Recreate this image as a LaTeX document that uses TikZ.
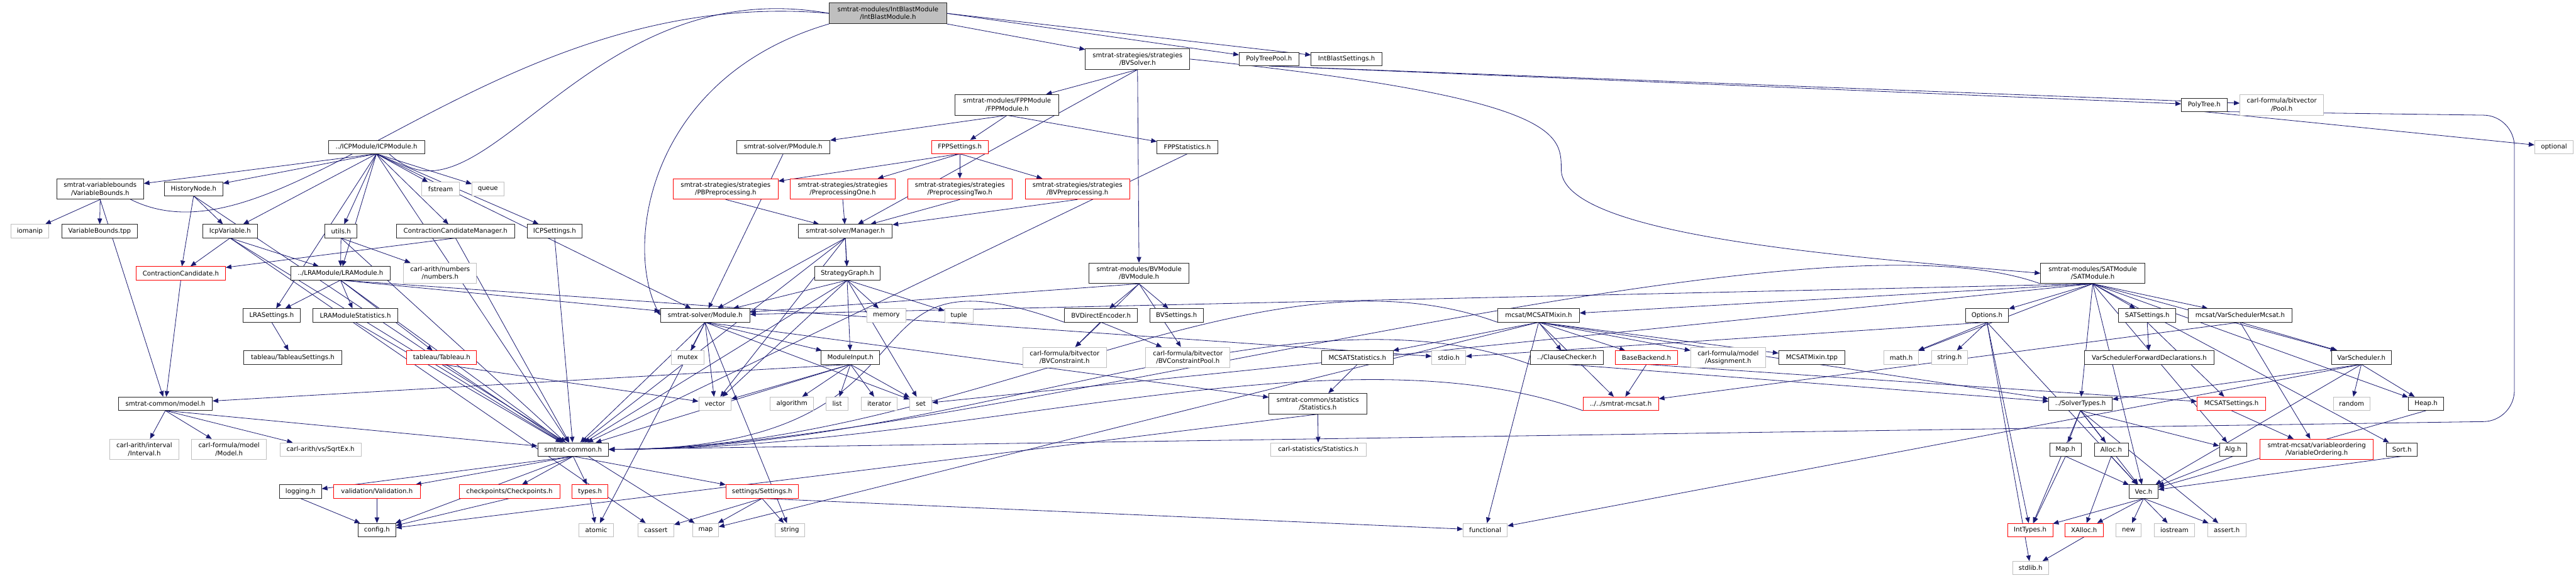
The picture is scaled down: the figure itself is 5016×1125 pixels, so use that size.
\documentclass[tikz,border=0pt]{standalone}
\usepackage{fontspec}
\setmainfont{DejaVu Sans}
\usetikzlibrary{arrows.meta,backgrounds}
\definecolor{edgeblue}{HTML}{191970}
\definecolor{extgray}{HTML}{BFBFBF}
\tikzset{
  hdrbox/.style={draw=black!85, fill=white, line width=1pt, align=center,
                 font=\fontsize{12.5}{15}\selectfont, inner sep=2pt, minimum height=26pt},
  two/.style={minimum height=40pt},
  extbox/.style={hdrbox, draw=extgray},
  redbox/.style={hdrbox, draw=red},
  rootbox/.style={hdrbox, fill=extgray},
  flow/.style={-{Triangle[length=11pt,width=9pt]}, draw=edgeblue, line width=1pt},
}

\begin{document}
\begin{tikzpicture}[x=1pt, y=-1pt]
\useasboundingbox (0,0) rectangle (5016,1125);
% top rows
\node[rootbox, two, minimum width=228] (ib) at (1729,26) {smtrat-modules/IntBlastModule\\/IntBlastModule.h};
\node[hdrbox, two, minimum width=203] (bvsolver) at (2215,115) {smtrat-strategies/strategies\\/BVSolver.h};
\node[hdrbox, minimum width=116] (polytreepool) at (2471,115) {PolyTreePool.h};
\node[hdrbox, minimum width=138] (ibsettings) at (2622,115) {IntBlastSettings.h};
\node[hdrbox, two, minimum width=202] (fppmodule) at (1961,204) {smtrat-modules/FPPModule\\/FPPModule.h};
\node[hdrbox, minimum width=89] (polytree) at (4292,204) {PolyTree.h};
\node[extbox, two, minimum width=163] (bvpool) at (4443,204) {carl-formula/bitvector\\/Pool.h};
\node[hdrbox, minimum width=187] (icp) at (733,286) {../ICPModule/ICPModule.h};
\node[hdrbox, minimum width=182] (pmodule) at (1525,286) {smtrat-solver/PModule.h};
\node[redbox, minimum width=110] (fppsettings) at (1869,286) {FPPSettings.h};
\node[hdrbox, minimum width=118] (fppstats) at (2312,286) {FPPStatistics.h};
\node[extbox, minimum width=75] (optional) at (4973,286) {optional};
% ICP and preprocessing row
\node[hdrbox, two, minimum width=169] (vb) at (195,368) {smtrat-variablebounds\\/VariableBounds.h};
\node[hdrbox, minimum width=114] (historynode) at (377,368) {HistoryNode.h};
\node[extbox, minimum width=73] (fstream) at (858,368) {fstream};
\node[extbox, minimum width=62] (queue) at (950,368) {queue};
\node[redbox, two, minimum width=204] (pbpre) at (1413,368) {smtrat-strategies/strategies\\/PBPreprocessing.h};
\node[redbox, two, minimum width=204] (preone) at (1641,368) {smtrat-strategies/strategies\\/PreprocessingOne.h};
\node[redbox, two, minimum width=204] (pretwo) at (1869,368) {smtrat-strategies/strategies\\/PreprocessingTwo.h};
\node[redbox, two, minimum width=204] (bvpre) at (2098,368) {smtrat-strategies/strategies\\/BVPreprocessing.h};
\node[extbox, minimum width=73] (iomanip) at (58,450) {iomanip};
\node[hdrbox, minimum width=148] (vbtpp) at (194,450) {VariableBounds.tpp};
\node[hdrbox, minimum width=106] (icpvar) at (448,450) {IcpVariable.h};
\node[hdrbox, minimum width=62] (utils) at (664,450) {utils.h};
\node[hdrbox, minimum width=230] (ccmanager) at (887,450) {ContractionCandidateManager.h};
\node[hdrbox, minimum width=106] (icpsettings) at (1080,450) {ICPSettings.h};
\node[hdrbox, minimum width=183] (manager) at (1646,450) {smtrat-solver/Manager.h};
\node[redbox, minimum width=174] (cc) at (352,532) {ContractionCandidate.h};
\node[hdrbox, minimum width=193] (lra) at (663,532) {../LRAModule/LRAModule.h};
\node[extbox, two, minimum width=142] (numbers) at (857,532) {carl-arith/numbers\\/numbers.h};
\node[hdrbox, minimum width=128] (strategygraph) at (1650,532) {StrategyGraph.h};
\node[hdrbox, two, minimum width=195] (bvmodule) at (2218,532) {smtrat-modules/BVModule\\/BVModule.h};
\node[hdrbox, two, minimum width=203] (satmodule) at (4075,532) {smtrat-modules/SATModule\\/SATModule.h};
% module row
\node[hdrbox, minimum width=112] (lrasettings) at (529,614) {LRASettings.h};
\node[hdrbox, minimum width=166] (lrastats) at (692,614) {LRAModuleStatistics.h};
\node[hdrbox, minimum width=174] (module) at (1373,614) {smtrat-solver/Module.h};
\node[extbox, minimum width=77] (memory) at (1726,614) {memory};
\node[extbox, minimum width=55] (tuple) at (1867,614) {tuple};
\node[hdrbox, minimum width=142] (bvencoder) at (2144,614) {BVDirectEncoder.h};
\node[hdrbox, minimum width=105] (bvsettings) at (2291,614) {BVSettings.h};
\node[hdrbox, minimum width=159] (mcsatmixin) at (2996,614) {mcsat/MCSATMixin.h};
\node[hdrbox, minimum width=84] (options) at (3869,614) {Options.h};
\node[hdrbox, minimum width=111] (satsettings) at (4181,614) {SATSettings.h};
\node[hdrbox, minimum width=202] (varschedmcsat) at (4362,614) {mcsat/VarSchedulerMcsat.h};
\node[hdrbox, minimum width=191] (tableausettings) at (570,696) {tableau/TableauSettings.h};
\node[redbox, minimum width=136] (tableau) at (860,696) {tableau/Tableau.h};
\node[extbox, minimum width=63] (mutex) at (1339,696) {mutex};
\node[hdrbox, minimum width=114] (moduleinput) at (1656,696) {ModuleInput.h};
\node[extbox, two, minimum width=163] (bvconstraint) at (2073,696) {carl-formula/bitvector\\/BVConstraint.h};
\node[extbox, two, minimum width=164] (bvconstraintpool) at (2313,696) {carl-formula/bitvector\\/BVConstraintPool.h};
\node[hdrbox, minimum width=140] (mcsatstats) at (2643,696) {MCSATStatistics.h};
\node[extbox, minimum width=66] (stdio) at (2821,696) {stdio.h};
\node[hdrbox, minimum width=141] (clausechecker) at (3051,696) {../ClauseChecker.h};
\node[redbox, minimum width=121] (basebackend) at (3206,696) {BaseBackend.h};
\node[extbox, two, minimum width=146] (assignment) at (3365,696) {carl-formula/model\\/Assignment.h};
\node[hdrbox, minimum width=129] (mcsattpp) at (3528,696) {MCSATMixin.tpp};
\node[extbox, minimum width=67] (mathh) at (3702,696) {math.h};
\node[extbox, minimum width=69] (stringh) at (3796,696) {string.h};
\node[hdrbox, minimum width=252] (vsfwd) at (4185,696) {VarSchedulerForwardDeclarations.h};
\node[hdrbox, minimum width=117] (varsched) at (4598,696) {VarScheduler.h};
% lower rows
\node[hdrbox, minimum width=183] (model) at (322,786) {smtrat-common/model.h};
\node[extbox, minimum width=63] (vector) at (1392,786) {vector};
\node[extbox, minimum width=85] (algorithm) at (1542,786) {algorithm};
\node[extbox, minimum width=43] (list) at (1630,786) {list};
\node[extbox, minimum width=70] (iterator) at (1712,786) {iterator};
\node[extbox, minimum width=43] (set) at (1793,786) {set};
\node[hdrbox, two, minimum width=190] (statistics) at (2566,786) {smtrat-common/statistics\\/Statistics.h};
\node[redbox, minimum width=147] (smtratmcsat) at (3156,786) {../../smtrat-mcsat.h};
\node[hdrbox, minimum width=123] (solvertypes) at (4051,786) {../SolverTypes.h};
\node[redbox, minimum width=133] (mcsatsettings) at (4345,786) {MCSATSettings.h};
\node[extbox, minimum width=71] (random) at (4579,786) {random};
\node[hdrbox, minimum width=69] (heap) at (4724,786) {Heap.h};
\node[extbox, two, minimum width=134] (interval) at (281,875) {carl-arith/interval\\/Interval.h};
\node[extbox, two, minimum width=146] (carlmodel) at (446,875) {carl-formula/model\\/Model.h};
\node[extbox, minimum width=158] (sqrtex) at (624,875) {carl-arith/vs/SqrtEx.h};
\node[hdrbox, minimum width=138] (smtratcommon) at (1116,875) {smtrat-common.h};
\node[extbox, minimum width=186] (carlstats) at (2567,875) {carl-statistics/Statistics.h};
\node[hdrbox, minimum width=62] (maph) at (4022,875) {Map.h};
\node[hdrbox, minimum width=66] (alloc) at (4111,875) {Alloc.h};
\node[hdrbox, minimum width=53] (alg) at (4348,875) {Alg.h};
\node[redbox, two, minimum width=221] (varorder) at (4511,875) {smtrat-mcsat/variableordering\\/VariableOrdering.h};
\node[hdrbox, minimum width=60] (sort) at (4677,875) {Sort.h};
\node[hdrbox, minimum width=82] (logging) at (585,957) {logging.h};
\node[redbox, minimum width=168] (validation) at (734,957) {validation/Validation.h};
\node[redbox, minimum width=196] (checkpoints) at (992,957) {checkpoints/Checkpoints.h};
\node[redbox, minimum width=70] (types) at (1149,957) {types.h};
\node[redbox, minimum width=141] (settings) at (1484,957) {settings/Settings.h};
\node[hdrbox, minimum width=56] (vech) at (4174,957) {Vec.h};
\node[hdrbox, minimum width=73] (config) at (734,1032) {config.h};
\node[extbox, minimum width=67] (atomic) at (1161,1032) {atomic};
\node[extbox, minimum width=70] (cassert) at (1277,1032) {cassert};
\node[extbox, minimum width=50] (map) at (1374,1032) {map};
\node[extbox, minimum width=58] (string) at (1538,1032) {string};
\node[extbox, minimum width=86] (functional) at (2892,1032) {functional};
\node[redbox, minimum width=88] (inttypes) at (3953,1032) {IntTypes.h};
\node[redbox, minimum width=75] (xalloc) at (4058,1032) {XAlloc.h};
\node[extbox, minimum width=49] (new) at (4145,1032) {new};
\node[extbox, minimum width=79] (iostream) at (4234,1032) {iostream};
\node[extbox, minimum width=74] (asserth) at (4336,1032) {assert.h};
\node[extbox, minimum width=69] (stdlib) at (3954,1106) {stdlib.h};

\begin{scope}[on background layer]
% includes leave the bottom of the including file
\foreach \a/\b in {bvsolver/fppmodule,bvsolver/manager,bvsolver/bvmodule,
    polytreepool/bvpool,polytreepool/polytree,polytree/optional,
    fppmodule/pmodule,fppmodule/fppsettings,fppmodule/fppstats,pmodule/module,
    fppsettings/pbpre,fppsettings/preone,fppsettings/pretwo,fppsettings/bvpre,
    pbpre/manager,preone/manager,pretwo/manager,bvpre/manager,fppstats/smtratcommon,
    icp/vb,icp/historynode,icp/icpvar,icp/lrasettings,icp/lra,icp/utils,icp/smtratcommon,
    icp/ccmanager,icp/fstream,icp/queue,icp/icpsettings,icp/module,
    vb/iomanip,vb/vbtpp,vb/model,
    historynode/icpvar,historynode/cc,historynode/smtratcommon,
    icpvar/cc,icpvar/lra,icpvar/smtratcommon,icpvar/cassert,
    utils/lra,utils/numbers,utils/smtratcommon,ccmanager/cc,ccmanager/smtratcommon,
    icpsettings/smtratcommon,cc/model,
    lra/lrasettings,lra/lrastats,lra/tableau,lra/module,lra/smtratcommon,lra/stdio,
    lrasettings/tableausettings,lrastats/smtratcommon,tableau/vector,tableau/map,
    model/interval,model/carlmodel,model/sqrtex,model/smtratcommon,
    manager/module,manager/vector,manager/moduleinput,manager/strategygraph,manager/smtratcommon,
    strategygraph/module,strategygraph/memory,strategygraph/tuple,strategygraph/set,
    strategygraph/vector,strategygraph/smtratcommon,
    module/mutex,module/vector,module/moduleinput,module/set,module/smtratcommon,
    module/atomic,module/string,module/statistics,
    moduleinput/model,moduleinput/vector,moduleinput/algorithm,moduleinput/list,
    moduleinput/iterator,moduleinput/set,moduleinput/smtratcommon,
    smtratcommon/config,smtratcommon/logging,smtratcommon/validation,
    smtratcommon/checkpoints,smtratcommon/types,smtratcommon/settings,
    logging/config,validation/config,checkpoints/config,types/atomic,
    settings/cassert,settings/map,settings/string,settings/functional,
    statistics/config,statistics/carlstats,mcsatstats/statistics,
    bvmodule/module,bvmodule/bvencoder,bvmodule/bvsettings,bvmodule/bvconstraint,
    bvmodule/bvconstraintpool,bvencoder/bvconstraint,bvencoder/bvconstraintpool,
    satmodule/module,satmodule/mcsatmixin,satmodule/mathh,
    satmodule/options,satmodule/solvertypes,satmodule/satsettings,satmodule/varschedmcsat,
    satmodule/varsched,satmodule/heap,satmodule/sort,satmodule/vech,satmodule/alg,satmodule/set,
    mcsatmixin/mcsatstats,mcsatmixin/clausechecker,mcsatmixin/basebackend,
    mcsatmixin/assignment,mcsatmixin/mcsattpp,mcsatmixin/smtratmcsat,mcsatmixin/functional,
    mcsatmixin/solvertypes,mcsatmixin/map,clausechecker/solvertypes,
    basebackend/smtratmcsat,basebackend/mcsatsettings,
    options/stdio,options/mathh,options/stringh,options/stdlib,options/inttypes,options/vech,
    satsettings/vsfwd,satsettings/mcsatsettings,
    varschedmcsat/varsched,varschedmcsat/varorder,varschedmcsat/smtratmcsat,
    varsched/solvertypes,varsched/random,varsched/heap,varsched/vech,varsched/functional,
    solvertypes/inttypes,solvertypes/maph,solvertypes/alloc,solvertypes/vech,
    solvertypes/alg,solvertypes/asserth,mcsatsettings/varorder,
    heap/vech,sort/vech,alg/vech,maph/inttypes,maph/vech,alloc/xalloc,alloc/vech,
    vech/inttypes,vech/xalloc,vech/new,vech/iostream,vech/asserth,xalloc/stdlib}
  \draw[flow] (\a.south) -- (\b);
% far files come into smtrat-common.h from the right
\foreach \a in {satmodule,mcsatmixin,clausechecker,smtratmcsat,bvencoder}
  \draw[flow] (\a.south west) .. controls +(200:500) and +(700,0) .. (smtratcommon.east);
% the root file fans out from its sides
\draw[flow] (ib.west) .. controls +(190:500) and +(50:300) .. (icp.north);
\draw[flow] (ib.west) .. controls +(185:700) and +(40:400) .. (vb.north);
\foreach \a/\b in {ib.south east/bvsolver,ib.east/polytreepool,ib.east/ibsettings}
  \draw[flow] (\a) -- (\b);
% the long routed ones
\draw[flow] (ib.south west) .. controls (1260,150) and (1215,480) .. (module.west);
\draw[flow] (bvsolver.east) .. controls (3040,190) and (3040,260) .. (3040,330)
  .. controls (3040,460) and (3600,500) .. (satmodule.west);
\draw[flow, rounded corners=60pt] (polytree.south east) -- (4896,225) -- (4896,820)
  -- (smtratcommon.east);
\end{scope}
\end{tikzpicture}
\end{document}
